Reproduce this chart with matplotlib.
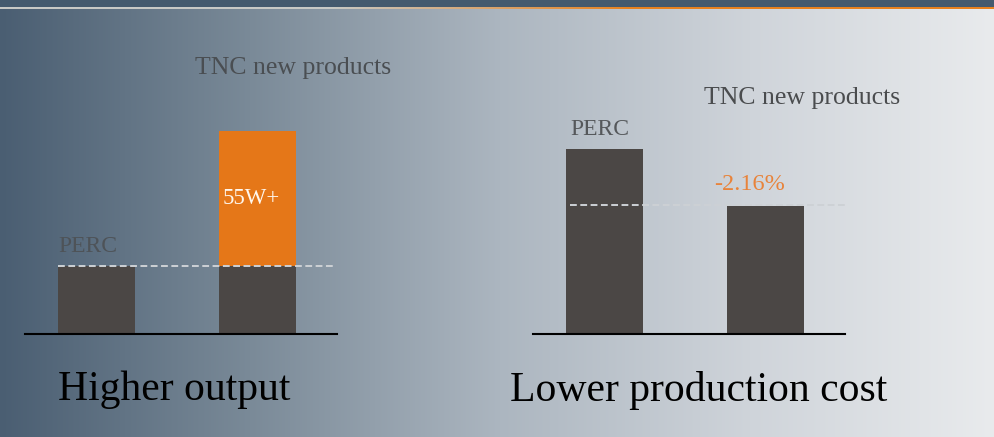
import numpy as np
import matplotlib
matplotlib.use('Agg')
import matplotlib.pyplot as plt

plt.rcParams['font.family'] = ['Liberation Serif', 'DejaVu Serif']

# chart values (schematic bar heights)
categories = ['PERC', 'TNC new products']
output_base = [68, 68]
output_gain = [0, 135]
gain_label = '55W+'
cost = [185, 128]
cost_label = '-2.16%'
titles = ['Higher output', 'Lower production cost']

W, H = 995, 437
fig = plt.figure(figsize=(W / 100, H / 100), dpi=100)

# background gradient
bg = fig.add_axes([0, 0, 1, 1])
bg.set_axis_off()
xs = np.arange(W)
stops_x = [0, 250, 500, 750, 994]
stops_c = np.array([[74, 94, 114], [122, 138, 152], [172, 182, 192],
                    [207, 212, 218], [233, 235, 237]]) / 255
row = np.stack([np.interp(xs, stops_x, stops_c[:, i]) for i in range(3)], axis=1)
img = np.repeat(row[None, :, :], H, axis=0)
# dark band at the top and a thin light/orange rule under it
img[0:7, :, :] = np.array([68, 90, 110]) / 255
t = np.clip((xs - 330) / 300, 0, 1)[:, None]
rule = (1 - t) * np.array([200, 202, 198]) / 255 + t * np.array([232, 130, 30]) / 255
img[7:9, :, :] = rule[None, :, :]
bg.imshow(img, extent=(0, W, H, 0), aspect='auto', interpolation='bilinear')
bg.set_xlim(0, W)
bg.set_ylim(H, 0)

bar_col = '#4b4745'
orange = '#e57718'
dash_col = '#cdd1d5'
x = np.arange(len(categories))
bw = 0.478


def make_ax(left_px):
    ax = fig.add_axes([left_px / W, (H - 334) / H, 312 / W, 294 / H])
    ax.set_facecolor('none')
    ax.set_xlim(-0.444, 1.494)
    ax.set_ylim(0, 294)
    for s in ['top', 'right', 'left']:
        ax.spines[s].set_visible(False)
    ax.spines['bottom'].set_linewidth(1.5)
    ax.spines['bottom'].set_color('black')
    ax.set_xticks([])
    ax.set_yticks([])
    return ax


# left: output
ax1 = make_ax(25)
ax1.bar(x, output_base, width=bw, color=bar_col, zorder=2)
ax1.bar(x, output_gain, width=bw, bottom=output_base, color=orange, zorder=2)
ax1.plot([x[0] - bw / 2, 1.469], [output_base[0]] * 2, color=dash_col,
         lw=1.4, dashes=(3.5, 1.8), zorder=3, clip_on=False)
ax1.text(x[0] - bw / 2, output_base[0] + 19, categories[0], fontsize=17,
         color='#4e5358', va='center', ha='left')
ax1.text(x[1] - bw / 2 + 0.025, output_base[1] + output_gain[1] / 2, gain_label,
         fontsize=16.5, color='#fff6ec', va='center', ha='left')
ax1.text(1.22, 266, categories[1], fontsize=18.5, color='#4a4e52',
         va='center', ha='center')
ax1.text(0.485, -56, titles[0], fontsize=30, color='black',
         va='center', ha='center', clip_on=False)

# right: cost
ax2 = make_ax(533)
ax2.bar(x, cost, width=bw, color=bar_col, zorder=2)
ax2.plot([-0.212, 1.507], [cost[1] + 1] * 2, color=dash_col,
         lw=1.4, dashes=(3.5, 1.8), zorder=3, clip_on=False)
ax2.text(x[0] - bw / 2 + 0.025, cost[0] + 19, categories[0], fontsize=17,
         color='#55585b', va='center', ha='left')
ax2.text(0.90, cost[1] + 21, cost_label, fontsize=17.5, color='#e8833a',
         va='center', ha='center')
ax2.text(1.23, 236, categories[1], fontsize=18.5, color='#4a4c4e',
         va='center', ha='center', clip_on=False)
ax2.text(0.585, -56, titles[1], fontsize=30, color='black',
         va='center', ha='center', clip_on=False)

fig.savefig('out.png', dpi=100)
